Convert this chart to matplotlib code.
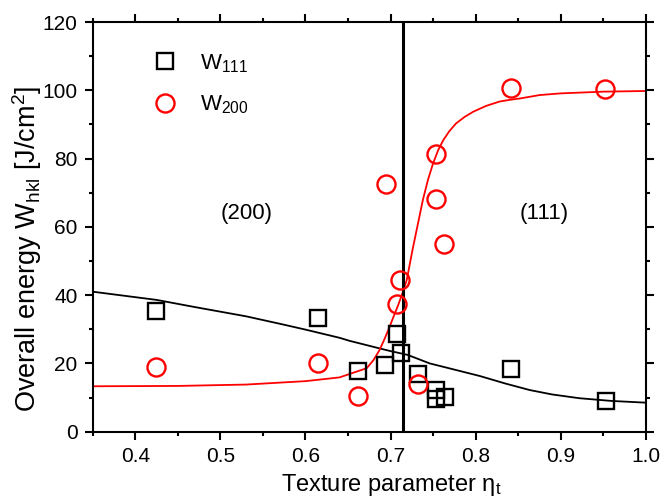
import matplotlib
matplotlib.use('Agg')
import matplotlib.pyplot as plt
from matplotlib.ticker import MultipleLocator

# measured points
eta_111 = [0.424, 0.615, 0.662, 0.694, 0.707, 0.712, 0.732, 0.754, 0.754, 0.764, 0.841, 0.953]
w_111 = [35.4, 33.4, 17.9, 19.5, 28.6, 23.0, 16.9, 12.2, 9.5, 10.3, 18.4, 9.1]

eta_200 = [0.424, 0.615, 0.662, 0.695, 0.707, 0.711, 0.732, 0.754, 0.754, 0.763, 0.841, 0.952]
w_200 = [18.9, 20.0, 10.5, 72.6, 37.3, 44.4, 13.9, 81.2, 68.2, 54.9, 100.8, 100.3]

# fitted curves
fit_111_x = [0.35, 0.425, 0.47, 0.53, 0.57, 0.60, 0.64, 0.652, 0.687, 0.70, 0.72, 0.746,
             0.77, 0.805, 0.835, 0.8635, 0.89, 0.922, 0.96, 1.0]
fit_111_y = [41.0, 38.6, 36.5, 33.8, 31.6, 29.9, 27.5, 26.6, 24.4, 23.6, 22.5, 20.0,
             18.5, 16.3, 14.1, 12.2, 10.9, 9.8, 9.0, 8.5]

fit_200_x = [0.35, 0.45, 0.53, 0.60, 0.64, 0.672, 0.68, 0.687, 0.693, 0.699, 0.704, 0.709,
             0.714, 0.719, 0.726, 0.732, 0.738, 0.744, 0.750, 0.756, 0.762, 0.769, 0.777,
             0.787, 0.797, 0.812, 0.828, 0.84, 0.852, 0.875, 0.90, 0.92, 0.95, 1.0]
fit_200_y = [13.3, 13.4, 13.8, 14.8, 15.9, 18.6, 21.0, 23.9, 27.2, 30.8, 34.0, 37.1,
             40.6, 44.4, 53.5, 60.7, 67.9, 73.8, 78.6, 82.5, 85.4, 88.0, 90.3,
             92.2, 93.7, 95.4, 96.7, 97.2, 97.6, 98.6, 99.1, 99.3, 99.6, 99.8]

eta_boundary = 0.715

plt.rcParams['font.family'] = ['Liberation Sans', 'DejaVu Sans']
plt.rcParams['mathtext.default'] = 'regular'

fig = plt.figure(figsize=(6.63, 5.04), dpi=100)
ax = fig.add_axes([0.140, 0.1435, 0.834, 0.8128])

ax.plot(fit_111_x, fit_111_y, color='black', lw=1.3)
ax.plot(fit_200_x, fit_200_y, color='red', lw=1.3)
ax.axvline(eta_boundary, color='black', lw=2.2)

ax.plot(eta_111, w_111, ls='none', marker='s', ms=11, mfc='none', mec='black', mew=1.7,
        label='W$_{111}$')
ax.plot(eta_200, w_200, ls='none', marker='o', ms=13, mfc='none', mec='red', mew=1.7,
        label='W$_{200}$')

ax.text(0.5306, 64, '(200)', ha='center', va='center', fontsize=16)
ax.text(0.881, 64, '(111)', ha='center', va='center', fontsize=16)

ax.set_xlim(0.35, 1.0)
ax.set_ylim(0, 120)
ax.xaxis.set_major_locator(MultipleLocator(0.1))
ax.xaxis.set_minor_locator(MultipleLocator(0.05))
ax.yaxis.set_major_locator(MultipleLocator(20))
ax.yaxis.set_minor_locator(MultipleLocator(10))
ax.tick_params(which='both', direction='out', top=True, right=True, width=1.5,
               labelsize=15, pad=5)
ax.tick_params(which='major', length=6)
ax.tick_params(which='minor', length=3)
for s in ax.spines.values():
    s.set_linewidth(1.5)

ax.set_xlabel('Texture parameter η$_t$', fontsize=17)
ax.set_ylabel('Overall energy W$_{hkl}$ [J/cm$^2$]', fontsize=19.5)
ax.xaxis.set_label_coords(0.54, -0.098)
ax.yaxis.set_label_coords(-0.088, 0.445)

ax.legend(loc='upper left', bbox_to_anchor=(0.065, 0.975), frameon=False, fontsize=16,
          handletextpad=0.8, labelspacing=0.85, handlelength=1.5)

fig.savefig('out.png', dpi=100)
